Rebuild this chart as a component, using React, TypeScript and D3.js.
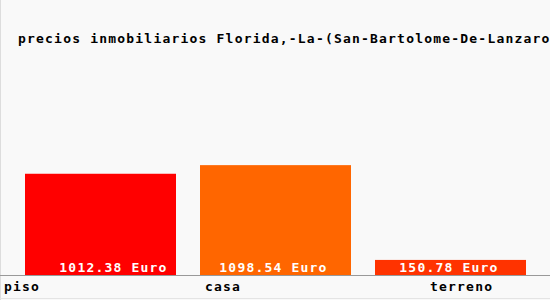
import React from "react";
import * as d3 from "d3";

const categories = ["piso", "casa", "terreno"];
const values = [1012.38, 1098.54, 150.78];
const valueLabels = ["1012.38 Euro", "1098.54 Euro", "150.78 Euro"];
const barColors = ["#ff0000", "#ff6600", "#ff3300"];
const title = "precios inmobiliarios Florida,-La-(San-Bartolome-De-Lanzaro";

const W = 550;
const H = 300;
const baseY = 275;
// horizontal shift of each category label relative to its bar start
const labelShift = [-21, 5, 55];
// horizontal shift of each value label relative to its bar centre
const valueShift = [13, -2, -1.5];

export default function App() {
  const x = d3
    .scaleBand<string>()
    .domain(categories)
    .range([13, 538])
    .paddingInner(24 / 175)
    .paddingOuter(12 / 175);
  const y = d3.scaleLinear().domain([0, 2500]).range([baseY, 25]);
  const font = "'DejaVu Sans Mono', monospace";
  return (
    <svg
      width={W}
      height={H}
      style={{ position: "absolute", left: 0, top: 0 }}
      fontFamily={font}
      fontSize={13}
      fontWeight="bold"
    >
      <rect x={0} y={0} width={W} height={H} fill="#f9f9f9" />
      <line x1={0.5} y1={0} x2={0.5} y2={H} stroke="#dddddd" />
      <line x1={0} y1={H - 1.5} x2={W} y2={H - 1.5} stroke="#e4e4e4" />
      <text x={18} y={43} fill="#000" letterSpacing={1.2}>
        {title}
      </text>
      {categories.map((c, i) => {
        const bx = x(c)!;
        const bw = x.bandwidth();
        const top = y(values[i]);
        return (
          <g key={c}>
            <rect x={bx} y={top} width={bw} height={baseY - top} fill={barColors[i]} />
            <text
              x={bx + bw / 2 + valueShift[i]}
              y={272}
              textAnchor="middle"
              fill="#ffffff"
              letterSpacing={1.2}
            >
              {valueLabels[i]}
            </text>
            <text x={bx + labelShift[i]} y={291} fill="#000" letterSpacing={1.2}>
              {c}
            </text>
          </g>
        );
      })}
      <line x1={0} y1={baseY + 0.5} x2={W} y2={baseY + 0.5} stroke="#999999" />
    </svg>
  );
}
